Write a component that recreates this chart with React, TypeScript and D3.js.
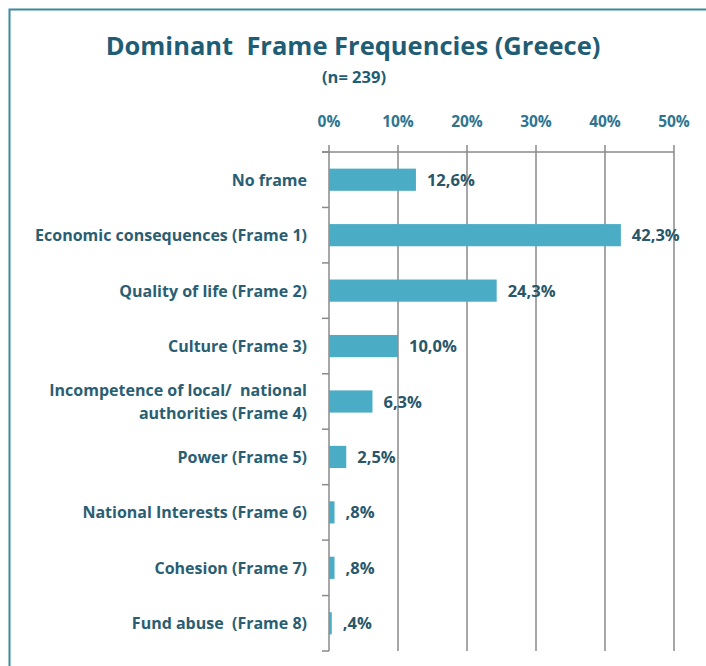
import React from "react";
import * as d3 from "d3";

const categories: string[][] = [
  ["No frame"],
  ["Economic consequences (Frame 1)"],
  ["Quality of life (Frame 2)"],
  ["Culture (Frame 3)"],
  ["Incompetence of local/  national", "authorities (Frame 4)"],
  ["Power (Frame 5)"],
  ["National Interests (Frame 6)"],
  ["Cohesion (Frame 7)"],
  ["Fund abuse  (Frame 8)"],
];
const values: number[] = [12.6, 42.3, 24.3, 10.0, 6.3, 2.5, 0.8, 0.8, 0.4];
const valueLabels: string[] = ["12,6%", "42,3%", "24,3%", "10,0%", "6,3%", "2,5%", ",8%", ",8%", ",4%"];
const ticks: number[] = [0, 10, 20, 30, 40, 50];
const tickLabels: string[] = ["0%", "10%", "20%", "30%", "40%", "50%"];
const title = "Dominant  Frame Frequencies (Greece)";
const subtitle = "(n= 239)";

const FONT = "'Open Sans', Lato, sans-serif";

export default function App() {
  const W = 706, H = 666;
  const x = d3.scaleLinear().domain([0, 50]).range([329, 674]);
  const keys = categories.map((_, i) => String(i));
  const y = d3.scaleBand<string>().domain(keys).range([152, 651]).paddingInner(0.6).paddingOuter(0.3);
  const step = y.step();
  const top = 152, bottom = 651;
  const gridColor = "#8a8a8a";
  return (
    <svg width={W} height={H} style={{ position: "absolute", left: 0, top: 0, display: "block", background: "#fff" }} fontFamily={FONT}>
      <rect x={9.5} y={9.5} width={760} height={720} fill="none" stroke="#3a8aa0" strokeWidth={2} />
      <text x={353} y={55} textAnchor="middle" fontSize={25.5} fontWeight={700} fill="#1f5d75" style={{ whiteSpace: "pre" }}>{title}</text>
      <text x={354} y={83} textAnchor="middle" fontSize={16.5} fontWeight={700} fill="#1f5d75">{subtitle}</text>
      {/* tick labels */}
      {ticks.map((t, i) => (
        <text key={"tl" + i} x={x(t)} y={126.5} textAnchor="middle" fontSize={15.5} fontWeight={700} fill="#2e7590">{tickLabels[i]}</text>
      ))}
      {/* gridlines */}
      {ticks.map((t, i) => (
        <line key={"g" + i} x1={x(t)} x2={x(t)} y1={145} y2={bottom} stroke={gridColor} strokeWidth={1.5} />
      ))}
      {/* top axis line */}
      <line x1={322} x2={x(50)} y1={top} y2={top} stroke={gridColor} strokeWidth={1.5} />
      {/* category ticks */}
      {d3.range(categories.length + 1).map((i) => (
        <line key={"ct" + i} x1={322} x2={x(0)} y1={top + i * step} y2={top + i * step} stroke={gridColor} strokeWidth={1.5} />
      ))}
      {/* bars */}
      {values.map((v, i) => (
        <rect key={"b" + i} x={x(0)} y={y(String(i))!} width={x(v) - x(0)} height={y.bandwidth()} fill="#4bacc6" />
      ))}
      {/* value labels */}
      {values.map((v, i) => (
        <text key={"v" + i} x={x(v) + 11} y={(y(String(i))! + y.bandwidth() / 2) + 6} fontSize={16.5} fontWeight={700} fill="#28566a">{valueLabels[i]}</text>
      ))}
      {/* category labels */}
      {categories.map((lines, i) => {
        const c = y(String(i))! + y.bandwidth() / 2;
        const n = lines.length;
        return (
          <text key={"c" + i} x={307} textAnchor="end" fontSize={16} fontWeight={700} fill="#2a5e72" style={{ whiteSpace: "pre" }}>
            {lines.map((ln, j) => (
              <tspan key={j} x={307} y={c + 6 + (j - (n - 1) / 2) * 23}>{ln}</tspan>
            ))}
          </text>
        );
      })}
    </svg>
  );
}
